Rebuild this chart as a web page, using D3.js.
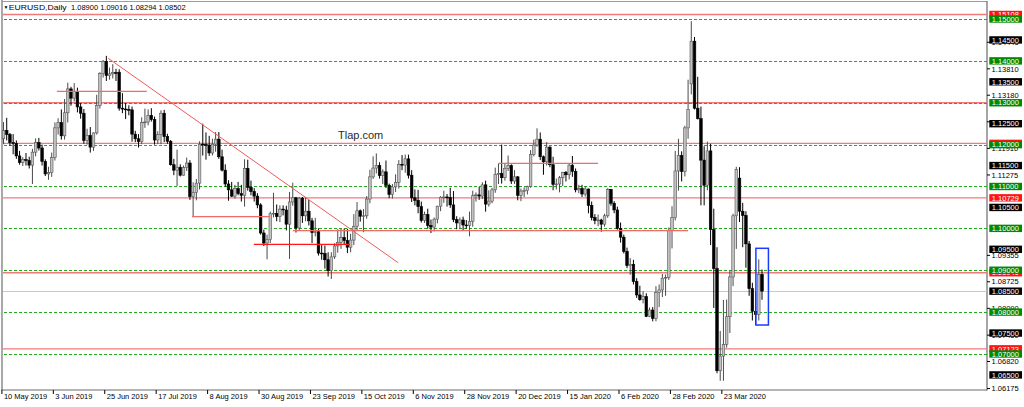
<!DOCTYPE html>
<html>
<head>
<meta charset="utf-8">
<script src="https://cdn.jsdelivr.net/npm/d3@7"></script>
<style>
  body { margin: 0; background: #fff; }
  svg { display: block; }
  text { font-family: "Liberation Sans", Arial, sans-serif; }
</style>
</head>
<body>
<svg id="chart"></svg>
<script>

// EURUSD daily bars, 10 May 2019 .. 8 Apr 2020 (16 bars per date label)
const barOpen = [
  1.1214,1.1234,1.1224,1.1205,1.1203,1.1173,1.1157,1.1164,1.1162,1.1151,1.1182,1.1205,1.1192,1.1160,1.1130,1.1133,
  1.1169,1.1240,1.1253,1.1221,1.1276,1.1333,1.1311,1.1327,1.1290,1.1275,1.1210,1.1222,1.1194,1.1228,1.1293,1.1370,
  1.1399,1.1365,1.1369,1.1372,1.1373,1.1287,1.1285,1.1284,1.1283,1.1225,1.1214,1.1207,1.1253,1.1254,1.1270,1.1260,
  1.1211,1.1224,1.1275,1.1219,1.1208,1.1152,1.1139,1.1146,1.1127,1.1145,1.1156,1.1076,1.1086,1.1108,1.1201,1.1200,
  1.1199,1.1180,1.1201,1.1213,1.1171,1.1139,1.1106,1.1092,1.1077,1.1095,1.1083,1.1079,1.1143,1.1098,1.1088,1.1077,
  1.1056,1.0989,1.0965,1.0973,1.1035,1.1036,1.1028,1.1046,1.1044,1.1010,1.1063,1.1073,1.1001,1.1072,1.1030,1.1041,
  1.1018,1.0990,1.0992,1.0941,1.0940,1.0925,1.0899,1.0932,1.0958,1.0966,1.0978,1.0971,1.0955,1.0972,1.1005,1.1042,
  1.1029,1.1030,1.1070,1.1123,1.1144,1.1150,1.1126,1.1135,1.1103,1.1081,1.1099,1.1110,1.1153,1.1151,1.1166,1.1127,
  1.1073,1.1067,1.1052,1.1019,1.1033,1.1007,1.1003,1.1022,1.1053,1.1074,1.1075,1.1074,1.1056,1.1021,1.1013,1.1020,
  1.1008,1.1007,1.1017,1.1078,1.1080,1.1077,1.1104,1.1058,1.1065,1.1092,1.1129,1.1131,1.1121,1.1143,1.1150,1.1113,
  1.1123,1.1079,1.1089,1.1090,1.1100,1.1176,1.1199,1.1213,1.1171,1.1159,1.1194,1.1152,1.1105,1.1106,1.1121,1.1134,
  1.1128,1.1151,1.1136,1.1092,1.1095,1.1082,1.1094,1.1055,1.1026,1.1019,1.1020,1.1010,1.1030,1.1093,1.1060,1.1044,
  1.1000,1.0979,1.0945,1.0911,1.0914,1.0873,1.0841,1.0830,1.0837,1.0790,1.0805,1.0785,1.0847,1.0853,1.0881,1.0883,
  1.0995,1.1026,1.1137,1.1174,1.1136,1.1240,1.1345,1.1447,1.1287,1.1262,1.1163,1.1103,1.1185,1.0997,1.0904,1.0660,
  1.0695,1.0723,1.0789,1.0884,1.1030,1.1120,1.1041,1.1031,1.0963,1.0856,1.0802,1.0794,1.08900
];
const barHigh = [
  1.1254,1.1264,1.1228,1.1225,1.1210,1.1185,1.1170,1.1180,1.1171,1.1190,1.1215,1.1216,1.1200,1.1165,1.1147,1.1181,
  1.1253,1.1263,1.1284,1.1309,1.1348,1.1338,1.1347,1.1336,1.1299,1.1285,1.1238,1.1242,1.1229,1.1319,1.1373,1.1402,
  1.1412,1.1384,1.1392,1.1381,1.1380,1.1323,1.1299,1.1294,1.1291,1.1233,1.1225,1.1265,1.1286,1.1284,1.1287,1.1267,
  1.1232,1.1282,1.1283,1.1226,1.1211,1.1166,1.1188,1.1153,1.1150,1.1169,1.1163,1.1110,1.1118,1.1208,1.1250,1.1229,
  1.1221,1.1214,1.1230,1.1230,1.1188,1.1153,1.1115,1.1111,1.1104,1.1111,1.1104,1.1165,1.1164,1.1114,1.1096,1.1084,
  1.1060,1.0997,1.0985,1.1040,1.1085,1.1057,1.1055,1.1055,1.1054,1.1087,1.1109,1.1075,1.1075,1.1075,1.1075,1.1068,
  1.1025,1.1025,1.1000,1.0960,1.0959,1.0943,1.0943,1.0964,1.0998,1.0999,1.0999,1.0999,1.0987,1.1034,1.1063,1.1045,
  1.1046,1.1077,1.1140,1.1172,1.1179,1.1158,1.1141,1.1162,1.1107,1.1106,1.1129,1.1163,1.1175,1.1176,1.1176,1.1139,
  1.1093,1.1092,1.1064,1.1040,1.1047,1.1021,1.1026,1.1054,1.1077,1.1090,1.1082,1.1097,1.1089,1.1029,1.1026,1.1028,
  1.1020,1.1040,1.1090,1.1086,1.1099,1.1110,1.1114,1.1091,1.1097,1.1145,1.1155,1.1200,1.1155,1.1174,1.1153,1.1139,
  1.1125,1.1095,1.1098,1.1102,1.1187,1.1212,1.1239,1.1229,1.1174,1.1206,1.1196,1.1171,1.1119,1.1125,1.1135,1.1137,
  1.1155,1.1173,1.1143,1.1104,1.1104,1.1100,1.1095,1.1064,1.1034,1.1033,1.1023,1.1035,1.1096,1.1094,1.1065,1.1052,
  1.1014,1.0985,1.0954,1.0929,1.0925,1.0881,1.0863,1.0850,1.0845,1.0811,1.0812,1.0862,1.0866,1.0891,1.0890,1.1002,
  1.1053,1.1185,1.1214,1.1184,1.1245,1.1355,1.1495,1.1457,1.1362,1.1291,1.1196,1.1207,1.1202,1.1047,1.0955,1.0755,
  1.0829,1.0830,1.0900,1.1035,1.1147,1.1146,1.1061,1.1041,1.0970,1.0870,1.0849,1.0926,1.09016
];
const barLow = [
  1.1201,1.1210,1.1197,1.1177,1.1166,1.1152,1.1149,1.1150,1.1143,1.1106,1.1172,1.1186,1.1150,1.1125,1.1116,1.1123,
  1.1162,1.1224,1.1212,1.1212,1.1253,1.1293,1.1303,1.1277,1.1262,1.1202,1.1200,1.1181,1.1185,1.1224,1.1286,1.1360,
  1.1352,1.1355,1.1358,1.1352,1.1281,1.1275,1.1261,1.1270,1.1207,1.1206,1.1193,1.1201,1.1240,1.1246,1.1255,1.1200,
  1.1201,1.1201,1.1206,1.1202,1.1150,1.1127,1.1101,1.1124,1.1126,1.1137,1.1068,1.1027,1.1067,1.1093,1.1174,1.1164,
  1.1173,1.1174,1.1183,1.1166,1.1136,1.1099,1.1066,1.1075,1.1071,1.1079,1.1064,1.1052,1.1090,1.1079,1.1064,1.1048,
  1.0985,1.0958,1.0926,1.0965,1.1026,1.1017,1.1015,1.1031,1.0995,1.0927,1.1054,1.0990,1.0995,1.1013,1.1017,1.1007,
  1.0965,1.0981,1.0935,1.0925,1.0904,1.0885,1.0879,1.0927,1.0942,1.0951,1.0962,1.0941,1.0943,1.0960,1.0996,1.1016,
  1.0991,1.1023,1.1060,1.1118,1.1131,1.1119,1.1106,1.1096,1.1072,1.1071,1.1087,1.1095,1.1139,1.1133,1.1119,1.1063,
  1.1055,1.1036,1.1014,1.1013,1.0999,1.0989,1.0993,1.1012,1.1041,1.1061,1.1052,1.1049,1.1015,1.0998,1.0998,1.0996,
  1.0999,1.0981,1.1004,1.1064,1.1068,1.1070,1.1040,1.1052,1.1060,1.1085,1.1106,1.1107,1.1114,1.1137,1.1106,1.1106,
  1.1067,1.1065,1.1075,1.1081,1.1097,1.1172,1.1195,1.1163,1.1128,1.1150,1.1146,1.1091,1.1093,1.1086,1.1101,1.1112,
  1.1117,1.1123,1.1086,1.1084,1.1075,1.1076,1.1036,1.1019,1.1010,1.1005,1.0992,1.1004,1.1025,1.1054,1.1036,1.0997,
  1.0966,1.0940,1.0905,1.0889,1.0866,1.0834,1.0827,1.0821,1.0788,1.0788,1.0778,1.0778,1.0812,1.0836,1.0839,1.0877,
  1.0952,1.1019,1.1090,1.1112,1.1124,1.1214,1.1320,1.1284,1.1260,1.1055,1.1055,1.1091,1.0960,1.0810,1.0654,1.0636,
  1.0636,1.0715,1.0750,1.0862,1.0951,1.1015,1.0955,1.0906,1.0839,1.0780,1.0770,1.0780,1.08294
];
const barClose = [
  1.1234,1.1224,1.1205,1.1203,1.1173,1.1157,1.1164,1.1162,1.1151,1.1182,1.1205,1.1192,1.1160,1.1130,1.1133,1.1169,
  1.1240,1.1253,1.1221,1.1276,1.1333,1.1311,1.1327,1.1290,1.1275,1.1210,1.1222,1.1194,1.1228,1.1293,1.1370,1.1399,
  1.1365,1.1369,1.1372,1.1370,1.1287,1.1285,1.1284,1.1283,1.1225,1.1214,1.1207,1.1253,1.1254,1.1270,1.1260,1.1211,
  1.1224,1.1275,1.1219,1.1208,1.1152,1.1139,1.1146,1.1127,1.1145,1.1156,1.1076,1.1086,1.1108,1.1201,1.1200,1.1199,
  1.1180,1.1201,1.1213,1.1171,1.1139,1.1106,1.1092,1.1077,1.1095,1.1083,1.1079,1.1143,1.1098,1.1088,1.1077,1.1056,
  1.0989,1.0965,1.0973,1.1035,1.1036,1.1028,1.1046,1.1044,1.1010,1.1063,1.1073,1.1001,1.1072,1.1030,1.1041,1.1018,
  1.0990,1.0992,1.0941,1.0940,1.0925,1.0899,1.0932,1.0958,1.0966,1.0978,1.0971,1.0955,1.0972,1.1005,1.1042,1.1029,
  1.1030,1.1070,1.1123,1.1144,1.1150,1.1126,1.1135,1.1103,1.1081,1.1099,1.1110,1.1153,1.1151,1.1166,1.1127,1.1073,
  1.1067,1.1052,1.1019,1.1033,1.1007,1.1003,1.1022,1.1053,1.1074,1.1075,1.1074,1.1056,1.1021,1.1013,1.1020,1.1008,
  1.1007,1.1017,1.1078,1.1080,1.1077,1.1104,1.1058,1.1065,1.1092,1.1129,1.1131,1.1121,1.1143,1.1150,1.1113,1.1123,
  1.1079,1.1089,1.1090,1.1100,1.1176,1.1199,1.1213,1.1171,1.1159,1.1194,1.1152,1.1105,1.1106,1.1121,1.1134,1.1128,
  1.1151,1.1136,1.1092,1.1095,1.1082,1.1094,1.1055,1.1026,1.1019,1.1020,1.1010,1.1030,1.1093,1.1060,1.1044,1.1000,
  1.0979,1.0945,1.0911,1.0914,1.0873,1.0841,1.0830,1.0837,1.0790,1.0805,1.0785,1.0847,1.0853,1.0881,1.0883,1.0995,
  1.1026,1.1137,1.1174,1.1136,1.1240,1.1284,1.1447,1.1287,1.1262,1.1163,1.1103,1.1185,1.0997,1.0904,1.0660,1.0695,
  1.0723,1.0789,1.0884,1.1030,1.1141,1.1041,1.1031,1.0963,1.0856,1.0802,1.0794,1.0890,1.08502
];

const symbolName = "EURUSD,Daily";

const dateLabels = ["10 May 2019", "3 Jun 2019", "25 Jun 2019", "17 Jul 2019", "8 Aug 2019",
  "30 Aug 2019", "23 Sep 2019", "15 Oct 2019", "6 Nov 2019", "28 Nov 2019", "20 Dec 2019",
  "15 Jan 2020", "6 Feb 2020", "28 Feb 2020", "23 Mar 2020"];
const dateLabelBars = [0, 16, 32, 48, 64, 80, 96, 112, 128, 144, 160, 176, 192, 208, 224];

// price scale labels (the ones not fully covered by tags), then tagged levels
const priceTicks = [1.14445, 1.13810, 1.13180, 1.12545, 1.11910, 1.11275,
  1.09355, 1.08725, 1.08090, 1.07450, 1.06820, 1.06175];
const roundLevels = [1.15, 1.14, 1.13, 1.12, 1.11, 1.10, 1.09, 1.08, 1.07];
const halfLevels = [1.145, 1.135, 1.125, 1.115, 1.105, 1.095, 1.085, 1.075, 1.065];
const redLevels = [1.15108, 1.13000, 1.12030, 1.10729, 1.08940, 1.07123];
const bidPrice = 1.08502;

// hand drawn objects: short horizontals, the falling trend line, the box
const segFrom = [16.6, 58.7, 77.9, 90.0, 154.0];
const segTo = [44.6, 82.9, 107.8, 213.0, 185.0];
const segPrice = [1.13270, 1.10279, 1.09620, 1.09945, 1.11554];
const trendBars = [32.6, 122.8];
const trendPrices = [1.14061, 1.09180];
const boxBars = [234.1, 238.0];
const boxPrices = [1.09524, 1.07692];
const watermark = "Tlap.com";

const W = 1024, H = 407;
const plotRight = 987, plotBottom = 390;

const svg = d3.select("#chart")
    .attr("width", W)
    .attr("height", H);

const x = d3.scaleLinear()
    .domain([0, barClose.length - 1])
    .range([3.5, 3.5 + (barClose.length - 1) * 3.214]);

const y = d3.scaleLinear()
    .domain([1.06140, 1.15406])
    .range([plotBottom, 2]);

const fmt = d3.format(".5f");
const bars = d3.range(barClose.length);
const isBull = i => barClose[i] >= barOpen[i];
const crisp = v => Math.round(v) + 0.5;

// frame
svg.append("rect")
    .attr("x", 1).attr("y", 0)
    .attr("width", 2).attr("height", plotBottom)
    .attr("fill", "#a8a8a8");
svg.append("line")
    .attr("x1", 2).attr("x2", plotRight)
    .attr("y1", 1.5).attr("y2", 1.5)
    .attr("stroke", "#9c9c9c");
svg.append("line")
    .attr("x1", plotRight).attr("x2", plotRight)
    .attr("y1", 1).attr("y2", plotBottom + 0.5)
    .attr("stroke", "#6a6a6a").attr("stroke-width", 1.2);
svg.append("line")
    .attr("x1", 1).attr("x2", plotRight)
    .attr("y1", plotBottom).attr("y2", plotBottom)
    .attr("stroke", "#6a6a6a").attr("stroke-width", 1.2);

// full width levels (behind the bars)
const levels = svg.append("g");

levels.append("line")
    .attr("x1", 3).attr("x2", plotRight)
    .attr("y1", crisp(y(bidPrice))).attr("y2", crisp(y(bidPrice)))
    .attr("stroke", "#c8c8c8");

levels.selectAll(".red")
    .data(redLevels)
    .join("line")
        .attr("x1", 3).attr("x2", plotRight)
        .attr("y1", d => y(d)).attr("y2", d => y(d))
        .attr("stroke", "#f07a7a")
        .attr("stroke-width", 1.4);

levels.selectAll(".green")
    .data(roundLevels)
    .join("line")
        .attr("x1", 4).attr("x2", plotRight)
        .attr("y1", d => crisp(y(d))).attr("y2", d => crisp(y(d)))
        .attr("stroke", "#22aa22")
        .attr("stroke-dasharray", "3,2");

// candles
const candles = svg.append("g");

candles.selectAll("line")
    .data(bars)
    .join("line")
        .attr("x1", i => x(i)).attr("x2", i => x(i))
        .attr("y1", i => y(barHigh[i])).attr("y2", i => y(barLow[i]))
        .attr("stroke", i => isBull(i) ? "#4a4a4a" : "#000")
        .attr("stroke-width", 1);

candles.selectAll("rect")
    .data(bars)
    .join("rect")
        .attr("x", i => x(i) - 1.3)
        .attr("width", 2.6)
        .attr("y", i => y(Math.max(barOpen[i], barClose[i])))
        .attr("height", i => Math.max(0.8, Math.abs(y(barOpen[i]) - y(barClose[i]))))
        .attr("fill", i => isBull(i) ? "#c2c2c2" : "#000")
        .attr("stroke", i => isBull(i) ? "#555" : "#000")
        .attr("stroke-width", 0.6);

// drawn objects
const objects = svg.append("g");

objects.selectAll("line.seg")
    .data(segPrice)
    .join("line")
        .attr("x1", (d, i) => x(segFrom[i])).attr("x2", (d, i) => x(segTo[i]))
        .attr("y1", d => y(d)).attr("y2", d => y(d))
        .attr("stroke", (d, i) => i === 2 ? "#ff1a1a" : "#f06a6a")
        .attr("stroke-width", 1.2);

objects.append("line")
    .attr("x1", x(trendBars[0])).attr("y1", y(trendPrices[0]))
    .attr("x2", x(trendBars[1])).attr("y2", y(trendPrices[1]))
    .attr("stroke", "#f05a5a")
    .attr("stroke-width", 1);

objects.append("rect")
    .attr("x", x(boxBars[0])).attr("y", y(boxPrices[0]))
    .attr("width", x(boxBars[1]) - x(boxBars[0]))
    .attr("height", y(boxPrices[1]) - y(boxPrices[0]))
    .attr("fill", "none")
    .attr("stroke", "#1a3cff")
    .attr("stroke-width", 1.5);

svg.append("text")
    .attr("x", 338).attr("y", 138.5)
    .attr("font-size", "11px")
    .attr("fill", "#2a2a2a")
    .text(watermark);

// header
const last = barClose.length - 1;
const header = svg.append("g").attr("font-size", "7.5px").attr("fill", "#000");
header.append("text").attr("x", 3.4).attr("y", 9.2).attr("font-size", "5px").text("\u25BC");
header.append("text").attr("x", 8.7).attr("y", 10.2)
    .attr("textLength", 58).attr("lengthAdjust", "spacingAndGlyphs")
    .text(symbolName);
header.append("text").attr("x", 71).attr("y", 10.2)
    .text([barOpen[last], barHigh[last], barLow[last], barClose[last]].map(fmt).join(" "));

// price scale
const scale = svg.append("g").attr("font-size", "7.5px");

scale.selectAll("line.tick")
    .data(priceTicks)
    .join("line")
        .attr("x1", plotRight).attr("x2", plotRight + 3)
        .attr("y1", d => y(d)).attr("y2", d => y(d))
        .attr("stroke", "#000");

scale.selectAll("text.tick")
    .data(priceTicks)
    .join("text")
        .attr("x", 991.6)
        .attr("y", d => y(d) + 2.7)
        .attr("fill", "#000")
        .text(fmt);

// a red tag sitting exactly under a green one is never seen, so skip it
const tags = [
    ...redLevels.filter(v => !roundLevels.includes(v)).map(v => ({ v, bg: "#ff1414" })),
    ...halfLevels.map(v => ({ v, bg: "#000" })),
    ...roundLevels.map(v => ({ v, bg: "#008a00" }))
];

const tag = scale.selectAll("g.tag")
    .data(tags)
    .join("g");

tag.append("rect")
    .attr("x", 989.3).attr("width", 32.7)
    .attr("y", d => y(d.v) - 3.7).attr("height", 7.4)
    .attr("fill", d => d.bg);

tag.append("text")
    .attr("x", 991.8)
    .attr("y", d => y(d.v) + 2.7)
    .attr("fill", "#fff")
    .text(d => fmt(d.v));

// date scale
const dates = svg.append("g").attr("font-size", "7.5px");

dates.selectAll("line")
    .data(dateLabelBars)
    .join("line")
        .attr("x1", d => x(d) - 1.6).attr("x2", d => x(d) - 1.6)
        .attr("y1", plotBottom).attr("y2", plotBottom + 4)
        .attr("stroke", "#000");

dates.selectAll("text")
    .data(dateLabelBars)
    .join("text")
        .attr("x", d => x(d) + 0.4)
        .attr("y", 398.6)
        .attr("fill", "#000")
        .text((d, i) => dateLabels[i]);

</script>
</body>
</html>
